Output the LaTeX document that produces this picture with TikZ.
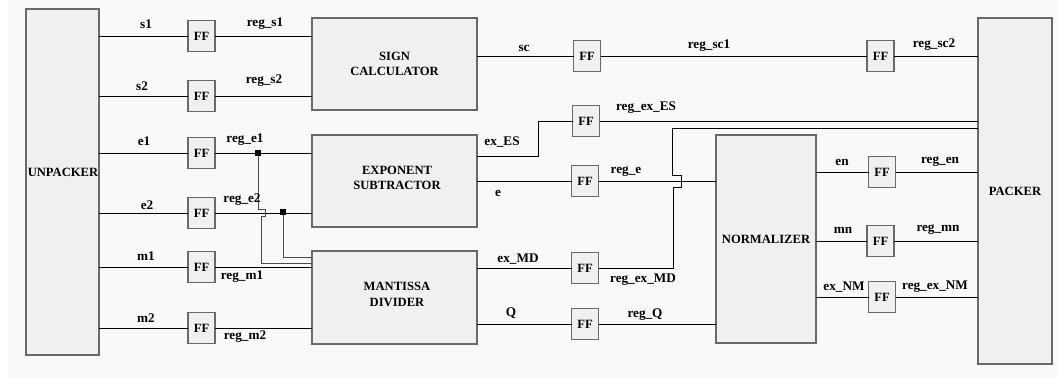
\documentclass[tikz,border=0pt]{standalone}
\usepackage{fontspec}
\setmainfont{Liberation Serif}[BoldFont={Liberation Serif Bold}]
\newfontfamily\diagfont{Liberation Serif Bold}
\begin{document}
\begin{tikzpicture}[x=1pt,y=-1pt,
  blk/.style={draw=boxline,fill=boxfill,line width=1.3pt,outer sep=0pt,inner sep=0pt,rectangle,font=\diagfont\fontsize{12.6}{15.5}\selectfont,align=center},
  ff/.style={blk,minimum width=27pt,minimum height=31pt},
  lbl/.style={font=\diagfont\fontsize{13.2}{15}\selectfont,inner sep=0pt},
  blbl/.style={font=\diagfont\fontsize{12.6}{15.5}\selectfont,inner sep=0pt,align=center},
  wire/.style={draw=black,line width=0.9pt},
  gwire/.style={draw=black!70,line width=0.9pt},
  dot/.style={fill=black,minimum size=6pt,inner sep=0pt,rectangle}]
\definecolor{boxline}{RGB}{105,105,105}
\definecolor{boxfill}{RGB}{240,240,240}
\definecolor{bgc}{RGB}{249,249,249}
\useasboundingbox (0,0) rectangle (1057,378);
\fill[white] (0,0) rectangle (1057,378);
\fill[bgc] (8,0) rectangle (1057,378);

% main blocks
\node[blk,minimum width=73pt,minimum height=346pt] (unp) at (62.5,182) {};
\node[blbl] (unpt) at (63,172) {UNPACKER};
\node[blk,minimum width=165pt,minimum height=92pt] (sgn) at (394.5,64) {SIGN\\CALCULATOR};
\node[blk,minimum width=165pt,minimum height=92pt] (exs) at (394.5,181) {};
\node[blbl] (exst) at (397,178) {EXPONENT\\SUBTRACTOR};
\node[blk,minimum width=165pt,minimum height=93pt] (man) at (394.5,297.5) {};
\node[blbl] (mant) at (397,294.5) {MANTISSA\\DIVIDER};
\node[blk,minimum width=100pt,minimum height=208pt] (nrm) at (766,239) {NORMALIZER};
\node[blk,minimum width=74pt,minimum height=346pt] (pck) at (1015,191) {PACKER};

% flip-flops
\node[ff] (f1) at (201.5,36) {FF};
\node[ff] (f2) at (201.5,96) {FF};
\node[ff] (f3) at (201.5,153) {FF};
\node[ff] (f4) at (201.5,213) {FF};
\node[ff] (f5) at (201.5,267) {FF};
\node[ff] (f6) at (201.5,328) {FF};
\node[ff] (fsc) at (587,56) {FF};
\node[ff] (fsc2) at (880.5,56) {FF};
\node[ff] (fes) at (586,121) {FF};
\node[ff] (fe) at (585,181) {FF};
\node[ff] (fmd) at (585,268) {FF};
\node[ff] (fq) at (585,324) {FF};
\node[ff] (fen) at (882,172) {FF};
\node[ff] (fmn) at (880.5,241) {FF};
\node[ff] (fnm) at (882,297) {FF};

% unpacker outputs
\foreach \f in {f1,f2,f3,f4,f5,f6}{
  \draw[wire] (unp.east |- \f.west) -- (\f.west);
}
% register outputs to first stage
\draw[wire] (f1.east) -- (sgn.west |- f1.east);
\draw[wire] (f2.east) -- (sgn.west |- f2.east);
\draw[wire] (f3.east) -- (exs.west |- f3.east);
\draw[wire] (f4.east) -- (exs.west |- f4.east);
\draw[wire] (f5.east) -- (man.west |- f5.east);
\draw[wire] (f6.east) -- (man.west |- f6.east);

% junctions
\coordinate (h1a) at (258,209);
\coordinate (h1b) at (265,209);
\coordinate (h1c) at (265,216);
\coordinate (h1d) at (261,216);
\coordinate (h1e) at (261,263);
\coordinate (h2a) at (283,257);
\coordinate (j1c) at (258,153);
\coordinate (j2c) at (283,212);
\draw[gwire] (j1c) -- (h1a) -- (h1b) -- (h1c) -- (h1d) -- (h1e) -- (man.west |- h1e);
\draw[gwire] (j2c) -- (h2a) -- (man.west |- h2a);
\node[dot] (j1) at (j1c) {};
\node[dot] (j2) at (j2c) {};

% sign path
\draw[wire] (sgn.east |- fsc.west) -- (fsc.west);
\draw[wire] (fsc.east) -- (fsc2.west);
\draw[wire] (fsc2.east) -- (pck.west |- fsc2.east);

% exponent outputs
\coordinate (esb) at (538,156);
\draw[wire] (exs.east |- esb) -- (esb) |- (fes.west);
\draw[wire] (fes.east) -- (pck.west |- fes.east);
\draw[wire] (exs.east |- fe.west) -- (fe.west);
\draw[wire] (fe.east) -- (nrm.west |- fe.east);

% mantissa outputs
\draw[wire] (man.east |- fmd.west) -- (fmd.west);
\coordinate (md1) at (673,268);
\coordinate (md2) at (673,187);
\coordinate (md3) at (681,187);
\coordinate (md4) at (681,175);
\coordinate (md5) at (672,175);
\coordinate (md6) at (672,128);
\draw[wire] (fmd.east) -- (md1) -- (md2) -- (md3) -- (md4) -- (md5) -- (md6) -- (pck.west |- md6);
\draw[wire] (man.east |- fq.west) -- (fq.west);
\draw[wire] (fq.east) -- (nrm.west |- fq.east);

% normalizer outputs
\draw[wire] (nrm.east |- fen.west) -- (fen.west);
\draw[wire] (fen.east) -- (pck.west |- fen.east);
\draw[wire] (nrm.east |- fmn.west) -- (fmn.west);
\draw[wire] (fmn.east) -- (pck.west |- fmn.east);
\draw[wire] (nrm.east |- fnm.west) -- (fnm.west);
\draw[wire] (fnm.east) -- (pck.west |- fnm.east);

% labels
\node[lbl] (ls1) at (146,24) {s1};
\node[lbl] (lrs1) at (265,24) {reg\_s1};
\node[lbl] (ls2) at (142,86) {s2};
\node[lbl] (lrs2) at (264,81) {reg\_s2};
\node[lbl] (le1) at (144,141) {e1};
\node[lbl] (lre1) at (245,140) {reg\_e1};
\node[lbl] (le2) at (147,205) {e2};
\node[lbl] (lre2) at (242,200) {reg\_e2};
\node[lbl] (lm1) at (146,256) {m1};
\node[lbl] (lrm1) at (242,277) {reg\_m1};
\node[lbl] (lm2) at (146,318) {m2};
\node[lbl] (lrm2) at (245,337) {reg\_m2};
\node[lbl] (lsc) at (524,48) {sc};
\node[lbl] (lrsc1) at (709,46) {reg\_sc1};
\node[lbl] (lrsc2) at (934,45) {reg\_sc2};
\node[lbl] (les) at (502,142) {ex\_ES};
\node[lbl] (lres) at (646,108) {reg\_ex\_ES};
\node[lbl] (le) at (498,193) {e};
\node[lbl] (lre) at (626,172) {reg\_e};
\node[lbl] (lmd) at (518,259) {ex\_MD};
\node[lbl] (lrmd) at (643,280) {reg\_ex\_MD};
\node[lbl] (lq) at (511,313) {Q};
\node[lbl] (lrq) at (645,315) {reg\_Q};
\node[lbl] (len) at (842,162) {en};
\node[lbl] (lren) at (940,162) {reg\_en};
\node[lbl] (lmn) at (843,230) {mn};
\node[lbl] (lrmn) at (938,230) {reg\_mn};
\node[lbl] (lnm) at (844,287) {ex\_NM};
\node[lbl] (lrnm) at (935,287) {reg\_ex\_NM};
\end{tikzpicture}
\end{document}
